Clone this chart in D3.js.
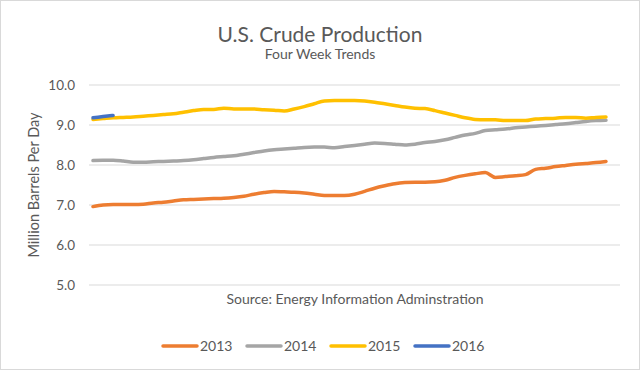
<!DOCTYPE html>
<html>
<head>
<meta charset="utf-8">
<script src="https://cdn.jsdelivr.net/npm/d3@7"></script>
<style>
  body { margin: 0; background: #fff; }
  svg text { font-family: Lato, "Liberation Sans", sans-serif; fill: #595959; }
</style>
</head>
<body>
<div id="chart"></div>
<script>
// Weekly crude production, million barrels per day (four week averages)
const years = ["2013", "2014", "2015", "2016"];
const colors = ["#ED7D31", "#A5A5A5", "#FFC000", "#4472C4"];
const yTicks = [5, 6, 7, 8, 9, 10];

const values2013 = [6.96, 7.00, 7.01, 7.01, 7.01, 7.02, 7.05, 7.07, 7.10, 7.13,
  7.14, 7.15, 7.16, 7.17, 7.19, 7.22, 7.27, 7.31, 7.34, 7.33,
  7.32, 7.30, 7.27, 7.24, 7.24, 7.24, 7.27, 7.34, 7.42, 7.48,
  7.53, 7.56, 7.57, 7.57, 7.58, 7.62, 7.69, 7.74, 7.78, 7.81,
  7.69, 7.71, 7.73, 7.76, 7.89, 7.92, 7.96, 7.99, 8.02, 8.04,
  8.06, 8.09];
const values2014 = [8.11, 8.12, 8.12, 8.10, 8.07, 8.07, 8.08, 8.09, 8.10, 8.11,
  8.13, 8.16, 8.19, 8.21, 8.23, 8.27, 8.31, 8.35, 8.38, 8.40,
  8.42, 8.44, 8.45, 8.45, 8.43, 8.46, 8.49, 8.52, 8.55, 8.54,
  8.52, 8.50, 8.52, 8.56, 8.59, 8.63, 8.69, 8.75, 8.79, 8.86,
  8.88, 8.90, 8.93, 8.95, 8.97, 8.99, 9.01, 9.03, 9.06, 9.09,
  9.11, 9.12];
const values2015 = [9.14, 9.16, 9.18, 9.19, 9.20, 9.22, 9.24, 9.26, 9.28, 9.32,
  9.36, 9.39, 9.39, 9.42, 9.40, 9.40, 9.40, 9.38, 9.37, 9.35,
  9.40, 9.46, 9.53, 9.60, 9.61, 9.61, 9.61, 9.60, 9.57, 9.53,
  9.49, 9.45, 9.42, 9.41, 9.36, 9.30, 9.24, 9.18, 9.14, 9.13,
  9.13, 9.11, 9.11, 9.11, 9.15, 9.16, 9.17, 9.19, 9.19, 9.17,
  9.19, 9.20];
const values2016 = [9.18, 9.21, 9.24];

const W = 640, H = 370;
const svg = d3.select("#chart").append("svg")
  .attr("width", W).attr("height", H);

// outer chart border
svg.append("rect")
  .attr("x", 0.5).attr("y", 0.5)
  .attr("width", W - 1).attr("height", H - 1)
  .attr("fill", "#fff").attr("stroke", "#d9d9d9");

const x = d3.scaleLinear().domain([0, 51]).range([93, 606]);
const y = d3.scaleLinear().domain([5, 10]).range([285, 85]);

// gridlines
svg.append("g").selectAll("line")
  .data(yTicks).enter().append("line")
  .attr("x1", 89).attr("x2", 620)
  .attr("y1", d => y(d)).attr("y2", d => y(d))
  .attr("stroke", "#d9d9d9").attr("stroke-width", 1);

// y axis labels
const yAxis = svg.append("g")
  .attr("transform", "translate(89,0)")
  .call(d3.axisLeft(y).tickValues(yTicks).tickFormat(d3.format(".1f")).tickSize(0).tickPadding(14));
yAxis.select(".domain").remove();
yAxis.selectAll("text").style("font-size", "13.5px").attr("fill", "#595959")
  .style("font-family", "Lato, sans-serif");

// lines
const line = d3.line()
  .x((d, i) => x(i))
  .y(d => y(d))
  .curve(d3.curveMonotoneX);

const series = [values2013, values2014, values2015, values2016];
svg.append("g").selectAll("path")
  .data(series).enter().append("path")
  .attr("d", d => line(d))
  .attr("fill", "none")
  .attr("stroke", (d, i) => colors[i])
  .attr("stroke-width", 3.5)
  .attr("stroke-linecap", "round")
  .attr("stroke-linejoin", "round");

// titles
svg.append("text")
  .attr("x", 320).attr("y", 42)
  .attr("text-anchor", "middle")
  .style("font-size", "21px")
  .text("U.S. Crude Production");

svg.append("text")
  .attr("x", 320).attr("y", 59)
  .attr("text-anchor", "middle")
  .style("font-size", "14px")
  .text("Four Week Trends");

svg.append("text")
  .attr("transform", "translate(39,185) rotate(-90)")
  .attr("text-anchor", "middle")
  .style("font-size", "14.5px")
  .text("Million Barrels Per Day");

svg.append("text")
  .attr("x", 355).attr("y", 304)
  .attr("text-anchor", "middle")
  .style("font-size", "14px")
  .text("Source: Energy Information Adminstration");

// legend
const legend = svg.append("g").selectAll("g")
  .data(years).enter().append("g")
  .attr("transform", (d, i) => `translate(${163 + i * 84},346)`);
legend.append("line")
  .attr("x1", 0).attr("x2", 34)
  .attr("stroke", (d, i) => colors[i])
  .attr("stroke-width", 3.5)
  .attr("stroke-linecap", "round");
legend.append("text")
  .attr("x", 37).attr("dy", "0.35em")
  .style("font-size", "14px")
  .text(d => d);
</script>
</body>
</html>
